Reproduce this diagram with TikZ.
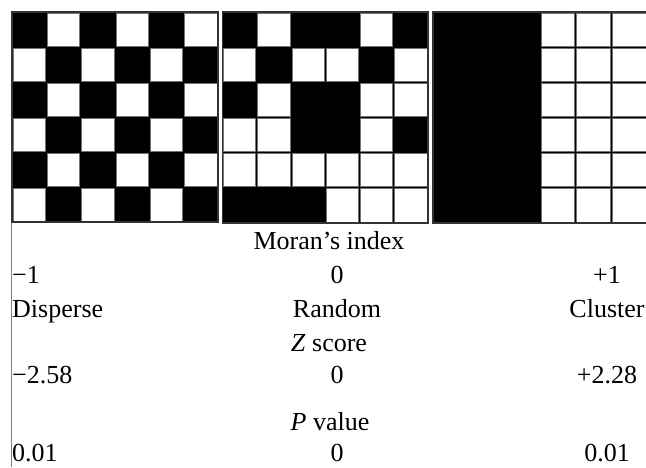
\documentclass[tikz,border=0pt]{standalone}
\usepackage{fontspec}
\setmainfont{Liberation Serif}
\tikzset{
  whitecell/.style={fill=white, draw=black!55, line width=0.8pt},
  gridframe/.style={draw=black!80, line width=1.2pt},
  lbl/.style={font=\fontsize{26}{31}\selectfont, inner sep=0pt},
}
\begin{document}
\begin{tikzpicture}[x=1pt,y=-1pt]
    \useasboundingbox (0,0) rectangle (646,467);
    \clip (0,0) rectangle (646,467);
    % Left rule
    \draw[black!50, line width=1pt] (11,12) -- (11,467);
    % Grid 1: dispersed (checkerboard)
    \fill[black] (12,12) rectangle (218,222);
    \foreach \i in {0,...,5}
      \foreach \j in {0,...,5} {
        \pgfmathtruncatemacro\cellsum{\i+\j}
        \ifodd\cellsum
          \filldraw[whitecell] ({12+34.33*\i+1},{12+35*\j+1}) rectangle ++(32.33,33);
        \fi
      }
    \draw[gridframe] (12,12) rectangle (218,222);
    % Grid 2: random
    \fill[black] (222.5,12) rectangle (428,223);
    \foreach \i/\j in {1/0,4/0, 0/1,2/1,3/1,5/1, 1/2,4/2,5/2, 0/3,1/3,4/3,
                       0/4,1/4,2/4,3/4,4/4,5/4, 3/5,4/5,5/5}
      \filldraw[whitecell] ({222.5+34.25*\i+1},{12+35.17*\j+1}) rectangle ++(32.25,33.17);
    \draw[gridframe] (222.5,12) rectangle (428,223);
    % Grid 3: clustered
    \fill[black] (433,12) rectangle (648,223);
    \foreach \i in {3,4,5}
      \foreach \j in {0,...,5}
        \filldraw[whitecell] ({433+35.7*\i+1},{12+35.17*\j+1}) rectangle ++(33.7,33.17);
    \draw[gridframe] (433,12) rectangle (648,223);
    % Moran's index
    \node[lbl, anchor=base] (moran) at (329,249) {Moran's index};
    \node[lbl, anchor=base west] (moranlow) at (12,283) {−1};
    \node[lbl, anchor=base] (moranmid) at (337,283) {0};
    \node[lbl, anchor=base] (moranhigh) at (607,283) {+1};
    \node[lbl, anchor=base west] (disperse) at (12,317) {Disperse};
    \node[lbl, anchor=base] (random) at (337,317) {Random};
    \node[lbl, anchor=base] (cluster) at (607,317) {Cluster};
    % Z score
    \node[lbl, anchor=base] (zscore) at (329,351) {\textit{Z} score};
    \node[lbl, anchor=base west] (zlow) at (12,383) {−2.58};
    \node[lbl, anchor=base] (zmid) at (337,383) {0};
    \node[lbl, anchor=base] (zhigh) at (607,383) {+2.28};
    % P value
    \node[lbl, anchor=base] (pvalue) at (330,430) {\textit{P} value};
    \node[lbl, anchor=base west] (plow) at (12,461.5) {0.01};
    \node[lbl, anchor=base] (pmid) at (337,461.5) {0};
    \node[lbl, anchor=base] (phigh) at (607,461.5) {0.01};
\end{tikzpicture}
\end{document}
